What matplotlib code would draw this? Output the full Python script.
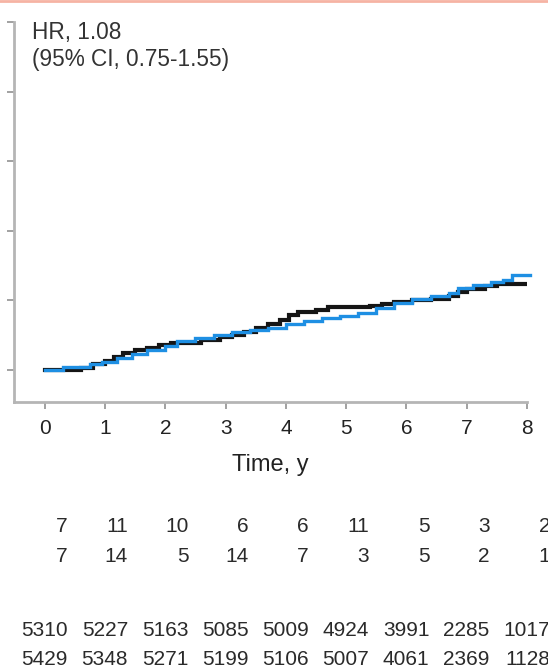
import matplotlib
matplotlib.use("Agg")

import matplotlib.pyplot as plt
import matplotlib.transforms as mtransforms
from matplotlib.lines import Line2D

plt.rcParams["font.family"] = ["Liberation Sans", "DejaVu Sans"]

# --- cumulative incidence step curves (years, %) ---
black_t = [0.0, 0.6, 0.8, 1.0, 1.15, 1.3, 1.5, 1.7, 1.9, 2.1, 2.6, 2.9, 3.1, 3.3, 3.5,
           3.7, 3.9, 4.05, 4.2, 4.5, 4.7, 5.4, 5.6, 5.8, 6.1, 6.4, 6.7, 6.85, 7.0, 7.3,
           7.5, 8.0]
black_y = [0.0, 0.03, 0.08, 0.13, 0.18, 0.25, 0.29, 0.32, 0.36, 0.39, 0.43, 0.47, 0.50,
           0.55, 0.61, 0.66, 0.72, 0.79, 0.83, 0.86, 0.90, 0.92, 0.95, 0.98, 1.00, 1.02,
           1.06, 1.12, 1.16, 1.20, 1.23, 1.23]

blue_t = [0.0, 0.3, 0.75, 0.95, 1.2, 1.45, 1.7, 2.0, 2.2, 2.5, 2.8, 3.1, 3.4, 3.7, 4.0,
          4.3, 4.6, 4.9, 5.2, 5.5, 5.8, 6.1, 6.4, 6.7, 6.85, 7.1, 7.4, 7.6, 7.75, 8.05]
blue_y = [0.0, 0.05, 0.08, 0.11, 0.17, 0.23, 0.28, 0.35, 0.41, 0.46, 0.50, 0.54, 0.57,
          0.60, 0.66, 0.71, 0.75, 0.78, 0.82, 0.89, 0.96, 1.02, 1.06, 1.10, 1.18, 1.22,
          1.27, 1.30, 1.36, 1.36]

# --- table under the plot ---
years = [0, 1, 2, 3, 4, 5, 6, 7, 8]
events_black = [7, 11, 10, 6, 6, 11, 5, 3, 2]
events_blue = [7, 14, 5, 14, 7, 3, 5, 2, 1]
at_risk_black = [5310, 5227, 5163, 5085, 5009, 4924, 3991, 2285, 1017]
at_risk_blue = [5429, 5348, 5271, 5199, 5106, 5007, 4061, 2369, 1128]

hr_text = "HR, 1.08\n(95% CI, 0.75-1.55)"

W, H = 548, 670
fig = plt.figure(figsize=(W / 100, H / 100), dpi=100)

# axes placed in pixel terms: left spine x=14, x=8 at 527, bottom 402, top 22
ax = fig.add_axes([14 / W, (H - 402) / H, (527 - 14) / W, (402 - 22) / H])

ax.plot(black_t, black_y, drawstyle="steps-post", color="#151515", lw=3.0,
        solid_joinstyle="miter", zorder=3)
ax.plot(blue_t, blue_y, drawstyle="steps-post", color="#1e8fe3", lw=2.4,
        solid_joinstyle="miter", zorder=4, clip_on=False)

ax.set_xlim(-0.51, 8)
ax.set_ylim(-0.46, 5)
ax.set_xticks(years)
ax.set_yticks([0, 1, 2, 3, 4, 5])
ax.set_yticklabels([])
ax.set_xlabel("Time, y", fontsize=17, color="#222222", labelpad=12)

for side in ("top", "right"):
    ax.spines[side].set_visible(False)
for side in ("left", "bottom"):
    ax.spines[side].set_color("#b5b5b5")
    ax.spines[side].set_linewidth(2)
ax.tick_params(axis="both", direction="out", length=5, width=1.3, color="#9a9a9a",
               labelsize=15, labelcolor="#222222")
ax.tick_params(axis="x", pad=7)

ax.text(32 / W, 1 - 21 / H, hr_text, transform=fig.transFigure, fontsize=16.3,
        color="#333333", va="top", ha="left", linespacing=1.2)

# rows of numbers, right-aligned a little past each year tick
col_tf = mtransforms.blended_transform_factory(ax.transData, fig.transFigure) + \
    mtransforms.ScaledTranslation(23 / 100, 0, fig.dpi_scale_trans)
rows = [(events_black, 532), (events_blue, 562), (at_risk_black, 635.5), (at_risk_blue, 665)]
for values, base_px in rows:
    for yr, v in zip(years, values):
        fig.text(yr, 1 - base_px / H, str(v), transform=col_tf, ha="right",
                 va="baseline", fontsize=15, color="#2a2a2a")

# thin rule along the top edge
fig.add_artist(Line2D([0, 1], [1 - 1 / H, 1 - 1 / H], transform=fig.transFigure,
                      color="#f6b3a4", lw=2))

fig.savefig("out.png", dpi=100)
